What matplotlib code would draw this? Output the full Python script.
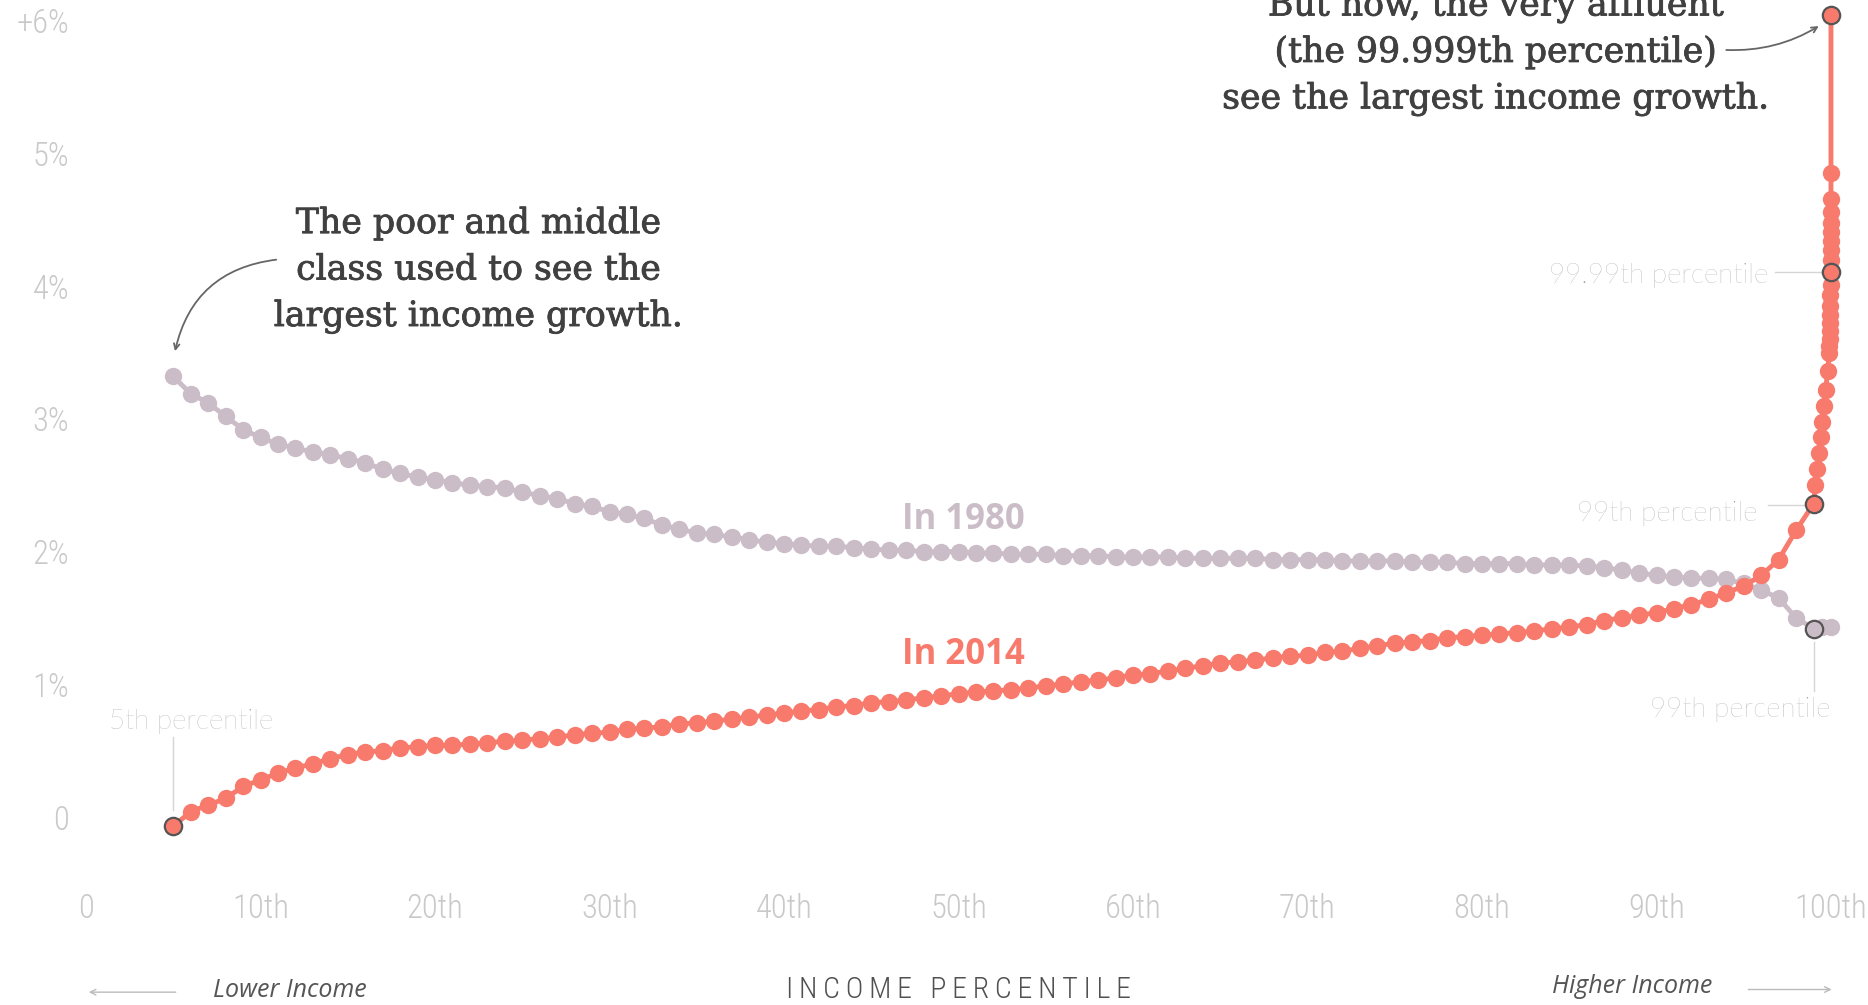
import matplotlib
matplotlib.use('Agg')
import matplotlib.pyplot as plt
import matplotlib.patheffects as pe

W, H = 1868, 1005
GREY_1980 = '#cbbdc7'
RED_2014 = '#f77a6c'
TICK = '#c9c9c9'
NOTE = '#9c9c9c'
INK = '#444444'
NARROW = ['Roboto Condensed', 'Roboto']

# income percentile 5..99
pct = list(range(5, 100))
growth_1980 = [3.32, 3.19, 3.12, 3.02, 2.92, 2.86, 2.81, 2.78, 2.75, 2.73,
               2.70, 2.67, 2.62, 2.59, 2.56, 2.54, 2.52, 2.50, 2.49, 2.48,
               2.45, 2.42, 2.40, 2.36, 2.34, 2.30, 2.28, 2.25, 2.20, 2.17,
               2.14, 2.13, 2.11, 2.09, 2.07, 2.06, 2.05, 2.04, 2.04, 2.03,
               2.02, 2.01, 2.01, 2.00, 2.00, 2.00, 1.99, 1.99, 1.98, 1.98,
               1.98, 1.97, 1.97, 1.97, 1.96, 1.96, 1.96, 1.96, 1.95, 1.95,
               1.95, 1.95, 1.95, 1.94, 1.94, 1.94, 1.94, 1.93, 1.93, 1.93,
               1.93, 1.92, 1.92, 1.92, 1.91, 1.91, 1.91, 1.91, 1.90, 1.90,
               1.90, 1.89, 1.88, 1.86, 1.84, 1.82, 1.81, 1.80, 1.80, 1.79,
               1.76, 1.71, 1.65, 1.50, 1.42]
growth_2014 = [-0.07, 0.04, 0.09, 0.14, 0.23, 0.28, 0.33, 0.37, 0.40, 0.44,
               0.47, 0.49, 0.50, 0.52, 0.53, 0.54, 0.54, 0.55, 0.56, 0.57,
               0.58, 0.59, 0.60, 0.62, 0.63, 0.64, 0.66, 0.67, 0.68, 0.70,
               0.71, 0.72, 0.74, 0.75, 0.77, 0.78, 0.80, 0.81, 0.83, 0.84,
               0.86, 0.87, 0.88, 0.90, 0.91, 0.93, 0.94, 0.95, 0.96, 0.97,
               0.99, 1.00, 1.02, 1.03, 1.05, 1.07, 1.08, 1.10, 1.12, 1.14,
               1.16, 1.17, 1.18, 1.20, 1.21, 1.22, 1.24, 1.25, 1.27, 1.29,
               1.31, 1.32, 1.33, 1.35, 1.36, 1.37, 1.38, 1.39, 1.40, 1.42,
               1.43, 1.45, 1.48, 1.50, 1.52, 1.54, 1.57, 1.60, 1.64, 1.69,
               1.74, 1.82, 1.94, 2.16, 2.36]

# top 1% broken down further
top_pct_2014 = [99.1, 99.2, 99.3, 99.4, 99.5, 99.6, 99.7, 99.8, 99.9,
                99.91, 99.92, 99.93, 99.94, 99.95, 99.96, 99.97, 99.98, 99.99,
                99.991, 99.992, 99.993, 99.994, 99.995, 99.996, 99.997, 99.998, 99.999]
top_2014 = [2.50, 2.62, 2.74, 2.86, 2.98, 3.10, 3.22, 3.36, 3.50,
            3.55, 3.60, 3.66, 3.72, 3.78, 3.85, 3.93, 4.01, 4.11,
            4.20, 4.27, 4.34, 4.41, 4.48, 4.56, 4.66, 4.85, 6.04]
top_pct_1980 = [99.5, 99.99]
top_1980 = [1.43, 1.43]

x80 = pct + top_pct_1980; y80 = growth_1980 + top_1980
x14 = pct + top_pct_2014; y14 = growth_2014 + top_2014
hi_2014 = [5, 99, 99.99, 99.999]
hi_1980 = [99]

yticks = [0, 1, 2, 3, 4, 5, 6]
ytick_labels = ['0', '1%', '2%', '3%', '4%', '5%', '+6%']
xticks = list(range(0, 101, 10))
xtick_labels = ['0'] + [f'{v}th' for v in xticks[1:]]

# pixel layout of the data area
PX_X0, PX_X100 = 86, 1831
PX_Y0, PX_PCT = 817, 132.7
YLO, YHI = -0.35, 6.15
top_px = PX_Y0 - YHI * PX_PCT
bot_px = PX_Y0 - YLO * PX_PCT

fig = plt.figure(figsize=(W / 100, H / 100), dpi=100, facecolor='white')
ax = fig.add_axes([PX_X0 / W, 1 - bot_px / H, (PX_X100 - PX_X0) / W, (bot_px - top_px) / H])
ax.set_xlim(0, 100); ax.set_ylim(YLO, YHI)
for s in ax.spines.values():
    s.set_visible(False)
ax.set_xticks(xticks); ax.set_xticklabels(xtick_labels)
ax.set_yticks(yticks); ax.set_yticklabels(ytick_labels)
ax.tick_params(axis='both', length=0, colors=TICK, labelsize=23.5)
ax.tick_params(axis='y', pad=12)
ax.tick_params(axis='x', pad=21)
for lab in ax.get_xticklabels() + ax.get_yticklabels():
    lab.set_family(NARROW)
    lab.set_fontweight('light')

ax.plot(x80, y80, '-o', color=GREY_1980, lw=3.5, ms=12.5, mew=0, zorder=3, clip_on=False)
ax.plot(x14, y14, '-o', color=RED_2014, lw=3.5, ms=12.5, mew=0, zorder=4, clip_on=False)
for p in hi_1980:
    ax.plot(p, y80[x80.index(p)], 'o', ms=12.5, mfc=GREY_1980, mec='#555555', mew=1.6, zorder=5, clip_on=False)
for p in hi_2014:
    ax.plot(p, y14[x14.index(p)], 'o', ms=12.5, mfc=RED_2014, mec='#555555', mew=1.6, zorder=5, clip_on=False)

ax.text(50.3, 2.24, 'In 1980', color=GREY_1980, fontsize=25, fontweight='bold',
        family='Open Sans', ha='center', va='center')
ax.text(50.3, 1.22, 'In 2014', color=RED_2014, fontsize=25, fontweight='bold',
        family='Open Sans', ha='center', va='center')

# leader labels
lab_kw = dict(color=NOTE, fontsize=20, family='Lato', fontweight='light', va='center')
ax.text(6.0, 0.72, '5th percentile', ha='center', **lab_kw)
ax.plot([5, 5], [0.05, 0.60], color='#d5d5d5', lw=1, zorder=1)
ax.text(96.4, 4.08, '99.99th percentile', ha='right', **lab_kw)
ax.plot([96.8, 99.6], [4.11, 4.11], color='#d5d5d5', lw=1, zorder=1)
ax.text(95.8, 2.29, '99th percentile', ha='right', **lab_kw)
ax.plot([96.4, 98.6], [2.35, 2.35], color='#d5d5d5', lw=1, zorder=1)
ax.text(100, 0.81, '99th percentile', ha='right', **lab_kw)
ax.plot([99, 99], [0.95, 1.32], color='#d5d5d5', lw=1, zorder=1)

# annotations
note_kw = dict(color='#404040', fontsize=25, family='DejaVu Serif', ha='center', va='baseline',
               path_effects=[pe.withStroke(linewidth=0.6, foreground='#404040')])
for txt, yv in zip(['The poor and middle', 'class used to see the', 'largest income growth.'],
                   [4.40, 4.05, 3.70]):
    ax.text(22.5, yv, txt, **note_kw)
for txt, yv in zip(['But now, the very affluent', '(the 99.999th percentile)',
                    'see the largest income growth.'], [6.04, 5.69, 5.34]):
    ax.text(80.8, yv, txt, clip_on=False, **note_kw)

ax.annotate('', xy=(5.1, 3.51), xytext=(10.9, 4.20),
            arrowprops=dict(arrowstyle='->', color='#666666', lw=1.3,
                            connectionstyle='arc3,rad=0.35', shrinkA=0, shrinkB=0))
ax.annotate('', xy=(99.3, 5.96), xytext=(94.0, 5.78),
            arrowprops=dict(arrowstyle='->', color='#666666', lw=1.3,
                            connectionstyle='arc3,rad=0.15', shrinkA=0, shrinkB=0))

# bottom axis captions
ax.text(50.0, -1.30, '\u2009'.join('INCOME PERCENTILE'), color='#505050', fontsize=21.5,
        family=NARROW, fontweight='light', ha='center', va='center', clip_on=False)
ax.text(11.7, -1.31, 'Lower Income', color='#555555', fontsize=18, style='italic',
        family='Open Sans', ha='center', va='center')
ax.text(88.6, -1.28, 'Higher Income', color='#555555', fontsize=18, style='italic',
        family='Open Sans', ha='center', va='center')
ax.annotate('', xy=(0, -1.32), xytext=(5.3, -1.32), annotation_clip=False,
            arrowprops=dict(arrowstyle='->', color='#bbbbbb', lw=1))
ax.annotate('', xy=(100.2, -1.30), xytext=(95.1, -1.30), annotation_clip=False,
            arrowprops=dict(arrowstyle='->', color='#bbbbbb', lw=1))

fig.savefig('out.png', dpi=100, facecolor='white')
